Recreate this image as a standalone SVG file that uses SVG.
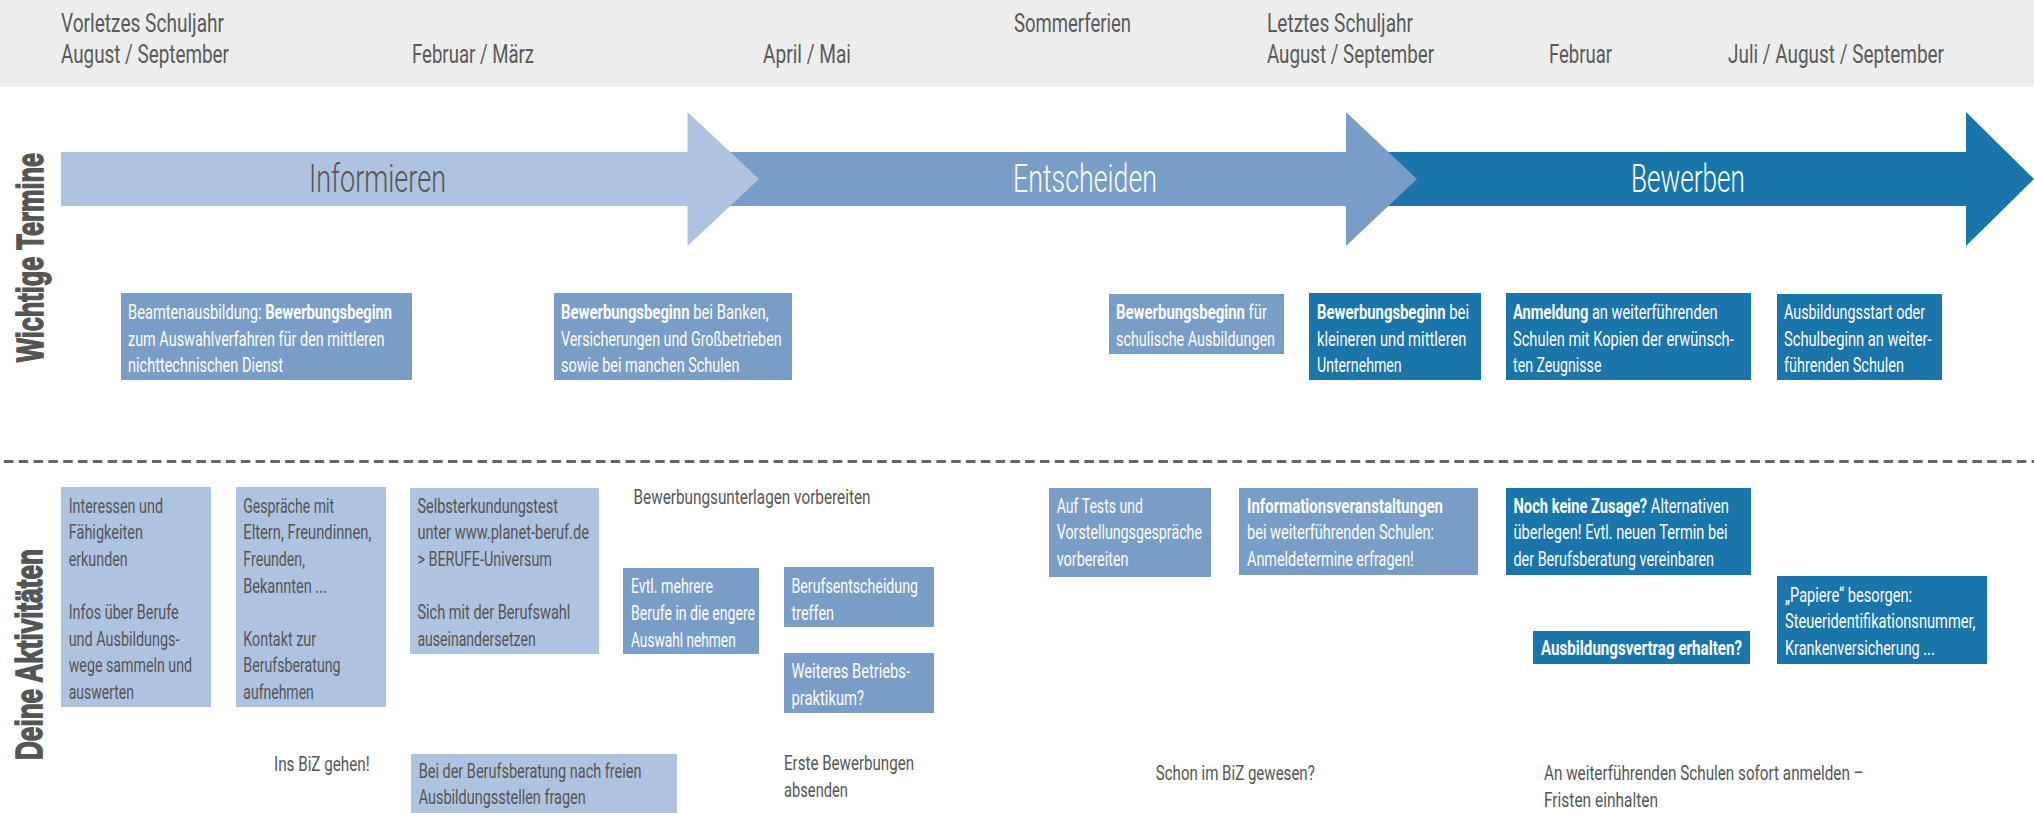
<svg xmlns="http://www.w3.org/2000/svg" width="2034" height="813" viewBox="0 0 2034 813">
<style>
text{font-family:Roboto,"Liberation Sans",sans-serif}
.hd{font-size:25px;fill:#5a5a5a}
.ph{font-size:38px;font-weight:300}
.t{font-size:19.5px}
.dk{fill:#555555}
.wh{fill:#ffffff}
.b{font-weight:700}
.vl{font-family:"Liberation Sans",Roboto,sans-serif;font-size:37px;font-weight:700;fill:#555555;stroke:#555555;stroke-width:1.6px}
.lt{fill:#adc3e0}
.md{fill:#789ec8}
.dd{fill:#1a75ab}
</style>
<rect x="0" y="0" width="2034" height="813" fill="#ffffff"/>
<g id="header">
<rect x="0" y="0" width="2034" height="87" fill="#ededed"/>
<text class="hd" x="61" y="32" textLength="163" lengthAdjust="spacingAndGlyphs">Vorletzes Schuljahr</text>
<text class="hd" x="61" y="63" textLength="168" lengthAdjust="spacingAndGlyphs">August / September</text>
<text class="hd" x="412" y="63" textLength="122" lengthAdjust="spacingAndGlyphs">Februar / März</text>
<text class="hd" x="763" y="63" textLength="88" lengthAdjust="spacingAndGlyphs">April / Mai</text>
<text class="hd" x="1014" y="32" textLength="117" lengthAdjust="spacingAndGlyphs">Sommerferien</text>
<text class="hd" x="1267" y="32" textLength="146" lengthAdjust="spacingAndGlyphs">Letztes Schuljahr</text>
<text class="hd" x="1267" y="63" textLength="167" lengthAdjust="spacingAndGlyphs">August / September</text>
<text class="hd" x="1549" y="63" textLength="63" lengthAdjust="spacingAndGlyphs">Februar</text>
<text class="hd" x="1728" y="63" textLength="216" lengthAdjust="spacingAndGlyphs">Juli / August / September</text>
</g>
<g id="phases">
<g id="phase-bewerben">
<polygon class="dd" points="1340,152 1966,152 1966,112 2034,179 1966,246 1966,206 1340,206"/>
<text class="ph wh" x="1631" y="192" textLength="114" lengthAdjust="spacingAndGlyphs">Bewerben</text>
</g>
<g id="phase-entscheiden">
<polygon class="md" points="700,152 1346,152 1346,112 1417,179 1346,246 1346,206 700,206"/>
<text class="ph wh" x="1013" y="192" textLength="144" lengthAdjust="spacingAndGlyphs">Entscheiden</text>
</g>
<g id="phase-informieren">
<polygon class="lt" points="61,152 687.5,152 687.5,112 759,179 687.5,246 687.5,206 61,206"/>
<text class="ph dk" x="309" y="192" textLength="137" lengthAdjust="spacingAndGlyphs">Informieren</text>
</g>
</g>
<g id="labels">
<text class="vl" transform="translate(42.5,257.5) rotate(-90)" text-anchor="middle" textLength="209" lengthAdjust="spacingAndGlyphs">Wichtige Termine</text>
<text class="vl" transform="translate(42,654.5) rotate(-90)" text-anchor="middle" textLength="211" lengthAdjust="spacingAndGlyphs">Deine Aktivitäten</text>
</g>
<g id="separator">
<line x1="4" y1="461.5" x2="2034" y2="461.5" stroke="#666666" stroke-width="3" stroke-dasharray="9.5 5.3"/>
</g>
<g id="termin-beamte">
<rect class="md" x="121" y="293" width="291" height="87"/>
<text class="t wh" x="128" y="319" textLength="264" lengthAdjust="spacingAndGlyphs">Beamtenausbildung: <tspan class="b">Bewerbungsbeginn</tspan></text>
<text class="t wh" x="128" y="345.5" textLength="256.5" lengthAdjust="spacingAndGlyphs">zum Auswahlverfahren für den mittleren</text>
<text class="t wh" x="128" y="372" textLength="155" lengthAdjust="spacingAndGlyphs">nichttechnischen Dienst</text>
</g>
<g id="termin-banken">
<rect class="md" x="554" y="293" width="238" height="87"/>
<text class="t wh" x="561" y="319" textLength="207.6" lengthAdjust="spacingAndGlyphs"><tspan class="b">Bewerbungsbeginn</tspan> bei Banken,</text>
<text class="t wh" x="561" y="345.5" textLength="220.6" lengthAdjust="spacingAndGlyphs">Versicherungen und Großbetrieben</text>
<text class="t wh" x="561" y="372" textLength="178.4" lengthAdjust="spacingAndGlyphs">sowie bei manchen Schulen</text>
</g>
<g id="termin-schulisch">
<rect class="md" x="1109" y="294" width="175" height="60"/>
<text class="t wh" x="1116" y="319" textLength="151" lengthAdjust="spacingAndGlyphs"><tspan class="b">Bewerbungsbeginn</tspan> für</text>
<text class="t wh" x="1116" y="345.5" textLength="159" lengthAdjust="spacingAndGlyphs">schulische Ausbildungen</text>
</g>
<g id="termin-kmu">
<rect class="dd" x="1309" y="293" width="172" height="87"/>
<text class="t wh" x="1317" y="319" textLength="152" lengthAdjust="spacingAndGlyphs"><tspan class="b">Bewerbungsbeginn</tspan> bei</text>
<text class="t wh" x="1317" y="345.5" textLength="149.5" lengthAdjust="spacingAndGlyphs">kleineren und mittleren</text>
<text class="t wh" x="1317" y="372" textLength="84.6" lengthAdjust="spacingAndGlyphs">Unternehmen</text>
</g>
<g id="termin-anmeldung">
<rect class="dd" x="1506" y="293" width="245" height="87"/>
<text class="t wh" x="1513" y="319" textLength="204.5" lengthAdjust="spacingAndGlyphs"><tspan class="b">Anmeldung</tspan> an weiterführenden</text>
<text class="t wh" x="1513" y="345.5" textLength="220.7" lengthAdjust="spacingAndGlyphs">Schulen mit Kopien der erwünsch-</text>
<text class="t wh" x="1513" y="372" textLength="88.4" lengthAdjust="spacingAndGlyphs">ten Zeugnisse</text>
</g>
<g id="termin-start">
<rect class="dd" x="1777" y="294" width="165" height="86"/>
<text class="t wh" x="1784" y="319" textLength="141" lengthAdjust="spacingAndGlyphs">Ausbildungsstart oder</text>
<text class="t wh" x="1784" y="345.5" textLength="147.5" lengthAdjust="spacingAndGlyphs">Schulbeginn an weiter-</text>
<text class="t wh" x="1784" y="372" textLength="120" lengthAdjust="spacingAndGlyphs">führenden Schulen</text>
</g>
<g id="akt-interessen">
<rect class="lt" x="61" y="487" width="150" height="220"/>
<text class="t dk" x="68.7" y="512.7" textLength="94.3" lengthAdjust="spacingAndGlyphs">Interessen und</text>
<text class="t dk" x="68.7" y="539.3" textLength="74.3" lengthAdjust="spacingAndGlyphs">Fähigkeiten</text>
<text class="t dk" x="68.7" y="566" textLength="59" lengthAdjust="spacingAndGlyphs">erkunden</text>
<text class="t dk" x="68.7" y="619" textLength="110" lengthAdjust="spacingAndGlyphs">Infos über Berufe</text>
<text class="t dk" x="68.7" y="645.7" textLength="110.8" lengthAdjust="spacingAndGlyphs">und Ausbildungs-</text>
<text class="t dk" x="68.7" y="672.3" textLength="123.3" lengthAdjust="spacingAndGlyphs">wege sammeln und</text>
<text class="t dk" x="68.7" y="699" textLength="65.3" lengthAdjust="spacingAndGlyphs">auswerten</text>
</g>
<g id="akt-gespraeche">
<rect class="lt" x="236" y="487" width="150" height="220"/>
<text class="t dk" x="243.3" y="512.7" textLength="90.7" lengthAdjust="spacingAndGlyphs">Gespräche mit</text>
<text class="t dk" x="243.3" y="539.3" textLength="128" lengthAdjust="spacingAndGlyphs">Eltern, Freundinnen,</text>
<text class="t dk" x="243.3" y="566" textLength="61.7" lengthAdjust="spacingAndGlyphs">Freunden,</text>
<text class="t dk" x="243.3" y="592.7" textLength="83.5" lengthAdjust="spacingAndGlyphs">Bekannten ...</text>
<text class="t dk" x="243.3" y="645.7" textLength="72.7" lengthAdjust="spacingAndGlyphs">Kontakt zur</text>
<text class="t dk" x="243.3" y="672.3" textLength="97.3" lengthAdjust="spacingAndGlyphs">Berufsberatung</text>
<text class="t dk" x="243.3" y="699" textLength="70.5" lengthAdjust="spacingAndGlyphs">aufnehmen</text>
</g>
<g id="akt-selbsttest">
<rect class="lt" x="410" y="488" width="189" height="166"/>
<text class="t dk" x="417.4" y="512.7" textLength="140.6" lengthAdjust="spacingAndGlyphs">Selbsterkundungstest</text>
<text class="t dk" x="417.4" y="539.3" textLength="171.6" lengthAdjust="spacingAndGlyphs">unter www.planet-beruf.de</text>
<text class="t dk" x="417.4" y="566" textLength="134.6" lengthAdjust="spacingAndGlyphs">&gt; BERUFE-Universum</text>
<text class="t dk" x="417.4" y="619" textLength="153" lengthAdjust="spacingAndGlyphs">Sich mit der Berufswahl</text>
<text class="t dk" x="417.4" y="645.7" textLength="118.3" lengthAdjust="spacingAndGlyphs">auseinandersetzen</text>
</g>
<g id="akt-biz">
<text class="t dk" x="274" y="771" textLength="95.6" lengthAdjust="spacingAndGlyphs">Ins BiZ gehen!</text>
</g>
<g id="akt-stellen">
<rect class="lt" x="411" y="754" width="266" height="59"/>
<text class="t dk" x="418.7" y="778.3" textLength="222.8" lengthAdjust="spacingAndGlyphs">Bei der Berufsberatung nach freien</text>
<text class="t dk" x="418.7" y="804.3" textLength="167" lengthAdjust="spacingAndGlyphs">Ausbildungsstellen fragen</text>
</g>
<g id="akt-unterlagen">
<text class="t dk" x="633.5" y="504.3" textLength="237" lengthAdjust="spacingAndGlyphs">Bewerbungsunterlagen vorbereiten</text>
</g>
<g id="akt-auswahl">
<rect class="md" x="623" y="568" width="136" height="86"/>
<text class="t wh" x="631" y="593.3" textLength="82" lengthAdjust="spacingAndGlyphs">Evtl. mehrere</text>
<text class="t wh" x="631" y="620" textLength="124" lengthAdjust="spacingAndGlyphs">Berufe in die engere</text>
<text class="t wh" x="631" y="646.7" textLength="104.7" lengthAdjust="spacingAndGlyphs">Auswahl nehmen</text>
</g>
<g id="akt-entscheidung">
<rect class="md" x="784" y="567" width="150" height="60"/>
<text class="t wh" x="791.5" y="593.3" textLength="126.5" lengthAdjust="spacingAndGlyphs">Berufsentscheidung</text>
<text class="t wh" x="791.5" y="620" textLength="42.5" lengthAdjust="spacingAndGlyphs">treffen</text>
</g>
<g id="akt-praktikum">
<rect class="md" x="784" y="653" width="150" height="60"/>
<text class="t wh" x="791.5" y="678.3" textLength="118.5" lengthAdjust="spacingAndGlyphs">Weiteres Betriebs-</text>
<text class="t wh" x="791.5" y="705" textLength="72.5" lengthAdjust="spacingAndGlyphs">praktikum?</text>
</g>
<g id="akt-erste">
<text class="t dk" x="784" y="770" textLength="130" lengthAdjust="spacingAndGlyphs">Erste Bewerbungen</text>
<text class="t dk" x="784" y="796.7" textLength="64" lengthAdjust="spacingAndGlyphs">absenden</text>
</g>
<g id="akt-tests">
<rect class="md" x="1049" y="488" width="162" height="89"/>
<text class="t wh" x="1056.7" y="512.7" textLength="86.3" lengthAdjust="spacingAndGlyphs">Auf Tests und</text>
<text class="t wh" x="1056.7" y="539.3" textLength="145.3" lengthAdjust="spacingAndGlyphs">Vorstellungsgespräche</text>
<text class="t wh" x="1056.7" y="566" textLength="71.8" lengthAdjust="spacingAndGlyphs">vorbereiten</text>
</g>
<g id="akt-info">
<rect class="md" x="1239" y="488" width="239" height="87"/>
<text class="t wh b" x="1247" y="512.7" textLength="196" lengthAdjust="spacingAndGlyphs">Informationsveranstaltungen</text>
<text class="t wh" x="1247" y="539.3" textLength="187" lengthAdjust="spacingAndGlyphs">bei weiterführenden Schulen:</text>
<text class="t wh" x="1247" y="566" textLength="166.8" lengthAdjust="spacingAndGlyphs">Anmeldetermine erfragen!</text>
</g>
<g id="akt-schon-biz">
<text class="t dk" x="1155.8" y="780" textLength="159" lengthAdjust="spacingAndGlyphs">Schon im BiZ gewesen?</text>
</g>
<g id="akt-zusage">
<rect class="dd" x="1506" y="488" width="245" height="87"/>
<text class="t wh" x="1513.5" y="512.7" textLength="215.5" lengthAdjust="spacingAndGlyphs"><tspan class="b">Noch keine Zusage?</tspan> Alternativen</text>
<text class="t wh" x="1513.5" y="539.3" textLength="214" lengthAdjust="spacingAndGlyphs">überlegen! Evtl. neuen Termin bei</text>
<text class="t wh" x="1513.5" y="566" textLength="200.5" lengthAdjust="spacingAndGlyphs">der Berufsberatung vereinbaren</text>
</g>
<g id="akt-vertrag">
<rect class="dd" x="1533" y="631" width="217" height="33"/>
<text class="t wh b" x="1541" y="655" textLength="201" lengthAdjust="spacingAndGlyphs">Ausbildungsvertrag erhalten?</text>
</g>
<g id="akt-papiere">
<rect class="dd" x="1777" y="576" width="210" height="88"/>
<text class="t wh" x="1785" y="601.7" textLength="127" lengthAdjust="spacingAndGlyphs">„Papiere“ besorgen:</text>
<text class="t wh" x="1785" y="628.3" textLength="190.5" lengthAdjust="spacingAndGlyphs">Steueridentifikationsnummer,</text>
<text class="t wh" x="1785" y="655" textLength="149.7" lengthAdjust="spacingAndGlyphs">Krankenversicherung ...</text>
</g>
<g id="akt-anmelden">
<text class="t dk" x="1544" y="780" textLength="319.6" lengthAdjust="spacingAndGlyphs">An weiterführenden Schulen sofort anmelden –</text>
<text class="t dk" x="1544" y="806.7" textLength="114" lengthAdjust="spacingAndGlyphs">Fristen einhalten</text>
</g>
</svg>
